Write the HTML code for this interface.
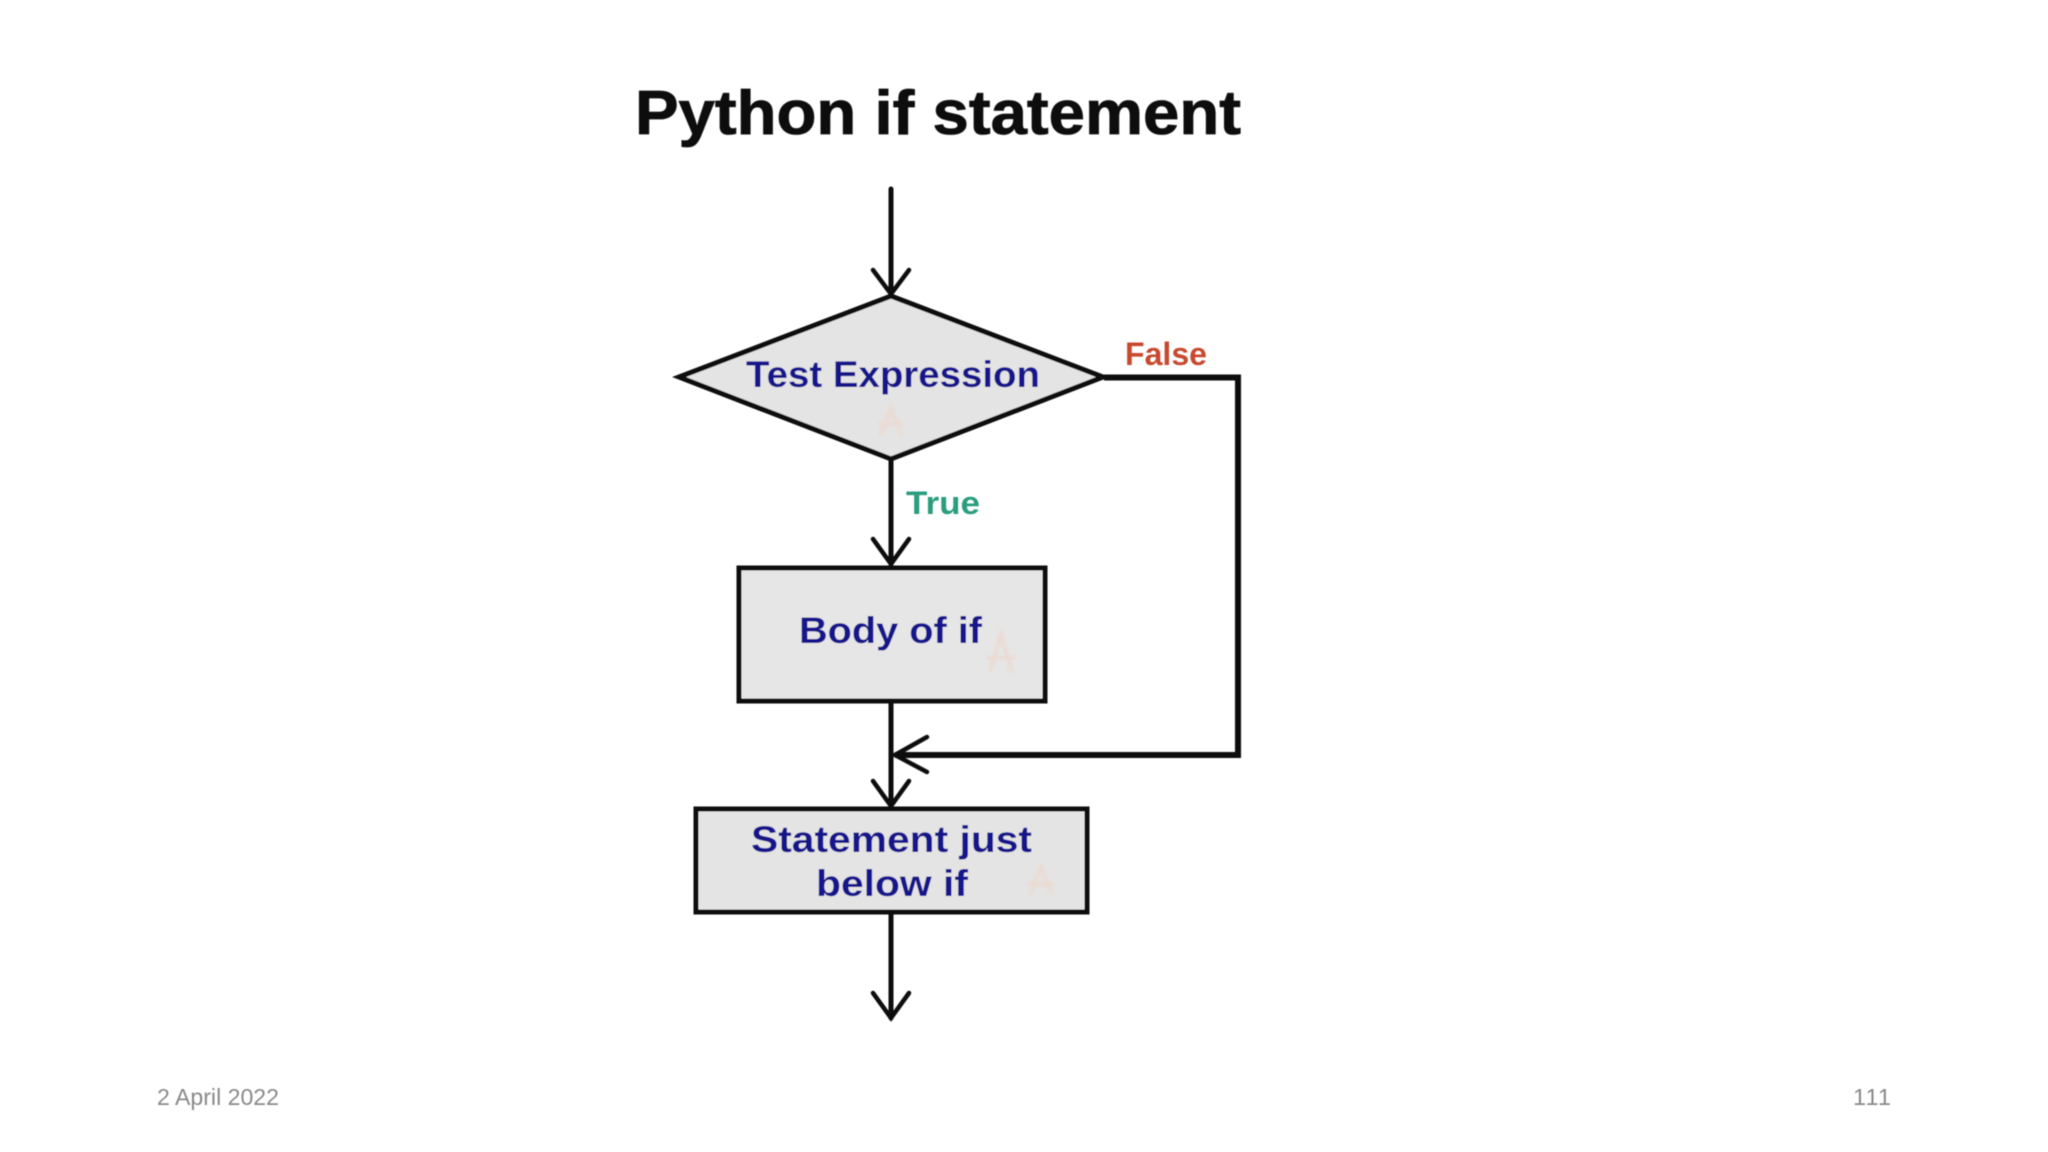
<!DOCTYPE html>
<html>
<head>
<meta charset="utf-8">
<style>
html,body{margin:0;padding:0;background:#fff;width:2048px;height:1152px;overflow:hidden}
svg{display:block}
text{font-family:"Liberation Sans",sans-serif}
.b{font-weight:bold}
.n{fill:#14148c;font-size:37px}
</style>
</head>
<body>
<svg width="2048" height="1152" viewBox="0 0 2048 1152" xmlns="http://www.w3.org/2000/svg">
<defs>
<filter id="s" x="-5%" y="-5%" width="110%" height="110%"><feGaussianBlur stdDeviation="0.6"/></filter>
<filter id="w" x="-30%" y="-30%" width="160%" height="160%"><feGaussianBlur stdDeviation="1.6"/></filter>
</defs>
<rect width="2048" height="1152" fill="#fff"/>
<g filter="url(#s)">
<text class="b" x="635" y="134" font-size="62" fill="#0c0c0c" stroke="#0c0c0c" stroke-width="0.8" textLength="606" lengthAdjust="spacingAndGlyphs">Python if statement</text>

<polygon points="891,296 1103,377 891,459 679,377" fill="#e4e4e4"/>
<polygon points="891,296 1103,377 891,459 679,377" fill="none" stroke="#111" stroke-width="5"/>
<rect x="739" y="568" width="306" height="133" fill="#e6e6e6" stroke="#111" stroke-width="5"/>
<rect x="696" y="809" width="391" height="103" fill="#e4e4e4" stroke="#111" stroke-width="5"/>

<g fill="none" stroke="#111" stroke-linecap="round">
<path d="M891 189V294" stroke-width="5"/>
<path d="M873 270L891 294L909 270" stroke-width="4.5"/>
<path d="M891 460V564" stroke-width="5"/>
<path d="M873 539L891 564L909 539" stroke-width="4.5"/>
<path d="M891 702V806" stroke-width="5"/>
<path d="M873 781L891 806L909 781" stroke-width="4.5"/>
<path d="M891 914V1018" stroke-width="5"/>
<path d="M873 993L891 1018L909 993" stroke-width="4.5"/>
<path d="M1104 377.500H1238V755H895" stroke-width="6" stroke-linecap="butt"/>
<path d="M927 737L895 755L927 772" stroke-width="4.5"/>
</g>

<text class="b n" x="746" y="387" textLength="294" lengthAdjust="spacingAndGlyphs">Test Expression</text>
<text class="b n" x="799" y="643" textLength="183" lengthAdjust="spacingAndGlyphs">Body of if</text>
<text class="b n" x="751" y="852" textLength="281" lengthAdjust="spacingAndGlyphs">Statement just</text>
<text class="b n" x="816" y="896" textLength="152" lengthAdjust="spacingAndGlyphs">below if</text>
<text class="b" x="1125" y="365" font-size="32" fill="#c8492e" textLength="82" lengthAdjust="spacingAndGlyphs">False</text>
<text class="b" x="906" y="514" font-size="32" fill="#2a9d7f" textLength="74" lengthAdjust="spacingAndGlyphs">True</text>

<text x="157" y="1105" font-size="23.500" fill="#898989" textLength="122" lengthAdjust="spacingAndGlyphs">2 April 2022</text>
<text x="1853" y="1105" font-size="23.500" fill="#898989" textLength="38" lengthAdjust="spacing">111</text>
</g>
<g fill="none" stroke="#eadbd2" stroke-width="4" filter="url(#w)">
<path d="M880 436L891 408L902 436M878 424H904"/>
<path d="M990 672L1001 634L1012 672M986 658H1016"/>
<path d="M1030 895L1041 866L1052 895M1028 884H1054"/>
</g>
</svg>
</body>
</html>
